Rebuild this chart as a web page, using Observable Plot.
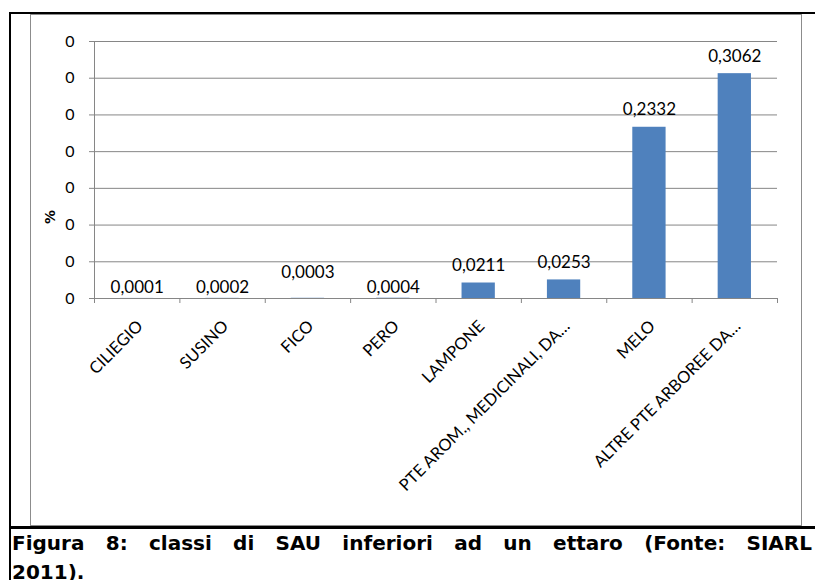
<!DOCTYPE html>
<html>
<head>
<meta charset="utf-8">
<script src="https://cdn.jsdelivr.net/npm/d3@7"></script>
<script src="https://cdn.jsdelivr.net/npm/@observablehq/plot@0.6"></script>
<style>
  html, body { margin: 0; padding: 0; background: #fff; }
  body { width: 817px; height: 580px; position: relative; overflow: hidden; }
  .blk { position: absolute; background: #000; }
  #box { position: absolute; left: 30px; top: 14px; width: 770px; height: 510px; border: 1px solid #8c8c8c; background: #fff; }
  #chart { position: absolute; left: 31px; top: 15px; }
  .cap { position: absolute; left: 12px; width: 800px; font-family: "DejaVu Sans", Verdana, sans-serif; font-weight: bold; font-size: 20px; line-height: 20px; white-space: nowrap; color: #000; }
  #cap1 { top: 533px; text-align: justify; text-align-last: justify; }
  #cap2 { top: 562px; }
</style>
</head>
<body>
<div class="blk" style="left:9px;top:12px;width:806px;height:2px;"></div>
<div class="blk" style="left:9px;top:12px;width:2px;height:568px;"></div>
<div id="box"></div>
<div id="chart"></div>
<div class="blk" style="left:9px;top:526px;width:806px;height:3px;"></div>
<div class="cap" id="cap1"></div>
<div class="cap" id="cap2"></div>
<script>
const categories = ["CILIEGIO", "SUSINO", "FICO", "PERO", "LAMPONE", "PTE AROM., MEDICINALI, DA…", "MELO", "ALTRE PTE ARBOREE DA…"];
const values = [0.0001, 0.0002, 0.0003, 0.0004, 0.0211, 0.0253, 0.2332, 0.3062];
const yTicks = [0, 0.05, 0.10, 0.15, 0.20, 0.25, 0.30, 0.35];
const yTitle = ["%"];
const captionLines = ["Figura 8: classi di SAU inferiori ad un ettaro (Fonte: SIARL", "2011)."];

document.getElementById("cap1").textContent = captionLines[0];
document.getElementById("cap2").textContent = captionLines[1];

const W = 770, H = 510, mL = 63, mT = 26, mR = 24, mB = 227;
const step = (W - mL - mR) / categories.length;
const gray = "#868686";
const data = categories.map((c, i) => ({cat: c, v: values[i]}));
const fmt = d3.formatLocale({decimal: ",", thousands: ".", grouping: [3], currency: ["", "€"]}).format(".4f");
const lowSet = ["CILIEGIO", "SUSINO", "PERO"];
const highSet = ["FICO"];

const chart = Plot.plot({
  width: W, height: H,
  marginLeft: mL, marginTop: mT, marginRight: mR, marginBottom: mB,
  style: {fontFamily: "Lato, sans-serif", background: "transparent", color: "#000", overflow: "visible"},
  x: {domain: categories, paddingInner: 0.61, paddingOuter: 0.305, round: false, label: null},
  y: {domain: [0, 0.35], label: null},
  marks: [
    Plot.gridY(yTicks, {stroke: gray, strokeOpacity: 1}),
    Plot.barY(data, {x: "cat", y: "v", fill: "#4F81BD"}),
    Plot.ruleY([0], {stroke: gray}),
    Plot.ruleX([categories[0]], {x: d => d, dx: -step / 2, y1: 0, y2: 0.35, insetTop: 5, stroke: gray}),
    Plot.ruleX(categories.slice(1), {x: d => d, dx: -step / 2, y1: 0, y2: 0, insetTop: 5, stroke: gray}),
    Plot.ruleX(categories.slice(-1), {x: d => d, dx: step / 2, y1: 0, y2: 0, insetTop: 5, stroke: gray}),
    Plot.axisY({ticks: yTicks, tickSize: 5, tickPadding: 15, tickFormat: d3.format(".0f"), stroke: gray, fill: "#000", fontSize: 16, label: null}),
    Plot.axisX({tickSize: 0, tickRotate: -45, tickPadding: 25, dx: 3, fontSize: 16.5, fill: "#000", label: null}),
    Plot.text(yTitle, {text: d => d, frameAnchor: "left", dx: -44, dy: 54, rotate: -90, fontWeight: "bold", fontSize: 14, fontFamily: "DejaVu Sans"}),
    Plot.text(data.filter(d => !lowSet.includes(d.cat) && !highSet.includes(d.cat)), {x: "cat", y: "v", text: d => fmt(d.v), dy: -17.5, fontSize: 17}),
    Plot.text(data.filter(d => lowSet.includes(d.cat)), {x: "cat", y: "v", text: d => fmt(d.v), dy: -10.5, fontSize: 17}),
    Plot.text(data.filter(d => highSet.includes(d.cat)), {x: "cat", y: "v", text: d => fmt(d.v), dy: -26, fontSize: 17})
  ]
});
document.getElementById("chart").appendChild(chart);
</script>
</body>
</html>
